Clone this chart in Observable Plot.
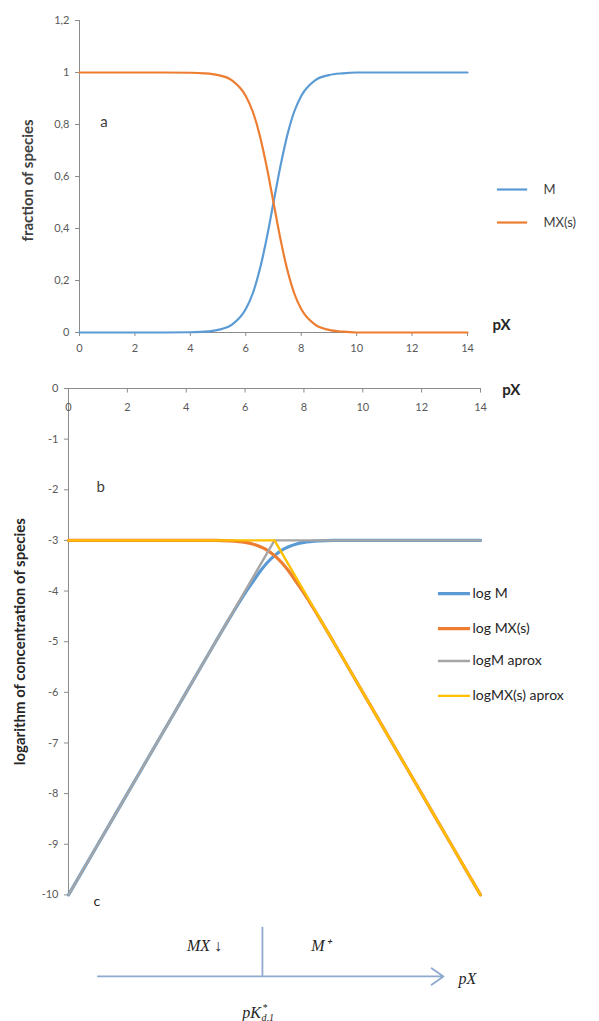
<!DOCTYPE html>
<html><head><meta charset="utf-8">
<script src="https://cdn.jsdelivr.net/npm/d3@7"></script>
<script src="https://cdn.jsdelivr.net/npm/@observablehq/plot@0.6"></script>
<style>
body{margin:0;background:#fff;}
#wrap{position:relative;width:599px;height:1021px;background:#fff;}
#wrap svg{position:absolute;left:0;top:0;overflow:visible;}
</style></head><body><div id="wrap"></div>
<script>
// ---- data ----
const pX = [0,1,2,3,4,4.5,5,5.5,6,6.25,6.5,6.75,7,7.25,7.5,7.75,8,8.5,9,9.5,10,11,12,13,14];
const fracM  = [0,0,0,0,0.001,0.003,0.01,0.03,0.09,0.15,0.24,0.36,0.5,0.64,0.76,0.85,0.91,0.97,0.99,0.997,1,1,1,1,1];
const fracMX = [1,1,1,1,0.999,0.997,0.99,0.97,0.91,0.85,0.76,0.64,0.5,0.36,0.24,0.15,0.09,0.03,0.01,0.003,0,0,0,0,0];
const logM  = [-10,-9,-8,-7,-6,-5.5,-5,-4.51,-4.04,-3.83,-3.62,-3.44,-3.3,-3.19,-3.12,-3.07,-3.04,-3.01,-3,-3,-3,-3,-3,-3,-3];
const logMX = [-3,-3,-3,-3,-3,-3,-3,-3.01,-3.04,-3.07,-3.12,-3.19,-3.3,-3.44,-3.62,-3.83,-4.04,-4.51,-5,-5.5,-6,-7,-8,-9,-10];
const pXApprox = [0,7,14];
const logMApprox  = [-10,-3,-3];
const logMXApprox = [-3,-3,-10];
const xTicks = [0,2,4,6,8,10,12,14];
const yTicksA = [0,0.2,0.4,0.6,0.8,1,1.2];
const yTicksB = [0,-1,-2,-3,-4,-5,-6,-7,-8,-9,-10];
const seriesAName = ["M","MX(s)"];
const seriesBName = ["log M","log MX(s)","logM aprox","logMX(s) aprox"];

// ---- styling ----
const font = "Lato, 'Open Sans', sans-serif";
const serif = "'Liberation Serif', serif";
const axisColor = "#8c8c8c";
const tickText = "#595959";
const titleColor = "#404040";
const colA = ["#5B9BD5","#ED7D31"];
const colB = ["#5B9BD5","#ED7D31","#A5A5A5","#FFC000"];
const diagColor = "#8fa9cf";

const rowsA = [
  ...pX.map((x,i)=>({x, y:fracM[i], s:seriesAName[0]})),
  ...pX.map((x,i)=>({x, y:fracMX[i], s:seriesAName[1]}))
];
const wrap = document.getElementById("wrap");

const plotA = Plot.plot({
  width:599, height:1021, marginLeft:79, marginRight:132, marginTop:20, marginBottom:689,
  style:{fontFamily:font, fontSize:"11px", color:tickText, background:"none", overflow:"visible"},
  x:{domain:[0,14]}, y:{domain:[0,1.2]},
  color:{domain:seriesAName, range:colA},
  marks:[
    Plot.ruleX([0],{y1:0,y2:1.2,stroke:axisColor}),
    Plot.ruleY([0],{x1:0,x2:14,stroke:axisColor}),
    Plot.axisY(yTicksA,{tickSize:4,tickPadding:6,label:null,stroke:axisColor,tickFormat:d=>String(d).replace(".",",")}),
    Plot.axisX(xTicks,{tickSize:4,tickPadding:8,label:null,stroke:axisColor}),
    Plot.line(rowsA,{x:"x",y:"y",stroke:"s",z:"s",curve:"monotone-x",strokeWidth:2.2}),
    // legend
    Plot.ruleY(seriesAName.map((s,i)=>({s,i})),{y:d=>[0.55,0.423][d.i],x1:15.08,x2:16.17,stroke:"s",strokeWidth:2.2}),
    Plot.text(seriesAName.map((s,i)=>({s,i})),{x:16.74,y:d=>[0.55,0.423][d.i],text:"s",textAnchor:"start",fontSize:13,fill:titleColor}),
    Plot.text([{t:"a"}],{x:0.75,y:0.81,text:"t",textAnchor:"start",fontSize:15,fill:titleColor}),
    Plot.text([{t:"pX"}],{x:14.9,y:0.027,text:"t",textAnchor:"start",fontSize:15,fontWeight:"bold",fill:"#262626"}),
    Plot.text([{t:"fraction of species"}],{x:-1.84,y:0.585,text:"t",rotate:-90,fontSize:15,fontWeight:"bold",fill:titleColor})
  ]
});

const rowsB = [
  ...pX.map((x,i)=>({x, y:logM[i], s:seriesBName[0]})),
  ...pX.map((x,i)=>({x, y:logMX[i], s:seriesBName[1]})),
  ...pXApprox.map((x,i)=>({x, y:logMApprox[i], s:seriesBName[2]})),
  ...pXApprox.map((x,i)=>({x, y:logMXApprox[i], s:seriesBName[3]}))
];
const legY = [-4.05,-4.74,-5.38,-6.07];
const legB = seriesBName.map((s,i)=>({s,i}));

const plotB = Plot.plot({
  width:599, height:1021, marginLeft:68, marginRight:119, marginTop:388, marginBottom:0,
  style:{fontFamily:font, fontSize:"11px", color:tickText, background:"none", overflow:"visible"},
  x:{domain:[0,14], axis:null}, y:{domain:[-12.5,0]},
  color:{domain:seriesBName, range:colB},
  marks:[
    Plot.ruleX([0],{y1:0,y2:-10,stroke:axisColor}),
    Plot.ruleY([0],{x1:0,x2:14,stroke:axisColor}),
    Plot.ruleX(xTicks,{x:d=>d,y1:0,y2:-0.09,stroke:axisColor}),
    Plot.text(xTicks,{x:d=>d,y:0,dy:19,text:d=>String(d),fill:tickText}),
    Plot.axisY(yTicksB,{tickSize:4,tickPadding:6,label:null,stroke:axisColor,tickFormat:d=>String(d)}),
    Plot.line(rowsB.filter(d=>d.s===seriesBName[0]||d.s===seriesBName[1]),{x:"x",y:"y",stroke:"s",z:"s",curve:"monotone-x",strokeWidth:3.2}),
    Plot.line(rowsB.filter(d=>d.s===seriesBName[2]||d.s===seriesBName[3]),{x:"x",y:"y",stroke:"s",z:"s",strokeWidth:2.4}),
    // legend
    Plot.ruleY(legB,{y:d=>legY[d.i],x1:12.57,x2:13.66,stroke:"s",strokeWidth:d=>d.i<2?3.2:2.4}),
    Plot.text(legB,{x:13.73,y:d=>legY[d.i],text:"s",textAnchor:"start",fontSize:14,fill:"#262626"}),
    Plot.text([{t:"b"}],{x:0.95,y:-1.94,text:"t",textAnchor:"start",fontSize:15,fill:titleColor}),
    Plot.text([{t:"c"}],{x:0.85,y:-10.13,text:"t",textAnchor:"start",fontSize:14,fill:"#262626"}),
    Plot.text([{t:"pX"}],{x:14.74,y:-0.04,text:"t",textAnchor:"start",fontSize:15,fontWeight:"bold",fill:"#262626"}),
    Plot.text([{t:"logarithm of concentration of species"}],{x:-1.65,y:-5.0,text:"t",rotate:-90,fontSize:15,fontWeight:"bold",fill:"#262626"}),
    // schematic diagram
    Plot.arrow([{x1:1.0,y1:-11.61,x2:12.74,y2:-11.61}],{x1:"x1",y1:"y1",x2:"x2",y2:"y2",stroke:diagColor,strokeWidth:1.8,headLength:12,headAngle:70}),
    Plot.ruleX([{x:6.59}],{x:"x",y1:-10.64,y2:-11.61,stroke:diagColor,strokeWidth:1.8}),
    Plot.text([{t:"MX ↓"}],{x:4.62,y:-11.0,text:"t",fontSize:16,fontStyle:"italic",fontFamily:serif,fill:"#262626"}),
    Plot.text([{t:"M⁺"}],{x:8.56,y:-11.0,text:"t",fontSize:16,fontStyle:"italic",fontFamily:serif,fill:"#262626"}),
    Plot.text([{t:"pX"}],{x:13.25,y:-11.65,text:"t",textAnchor:"start",fontSize:16,fontStyle:"italic",fontFamily:serif,fill:"#262626"}),
    Plot.text([{t:"pK"}],{x:5.9,y:-12.33,text:"t",textAnchor:"start",fontSize:16,fontStyle:"italic",fontFamily:serif,fill:"#262626"}),
    Plot.text([{t:"*"}],{x:6.58,y:-12.22,text:"t",textAnchor:"start",fontSize:10,fontStyle:"italic",fontFamily:serif,fill:"#262626"}),
    Plot.text([{t:"d,1"}],{x:6.56,y:-12.42,text:"t",textAnchor:"start",fontSize:10,fontStyle:"italic",fontFamily:serif,fill:"#262626"})
  ]
});

wrap.appendChild(plotB);
wrap.appendChild(plotA);
</script></body></html>
